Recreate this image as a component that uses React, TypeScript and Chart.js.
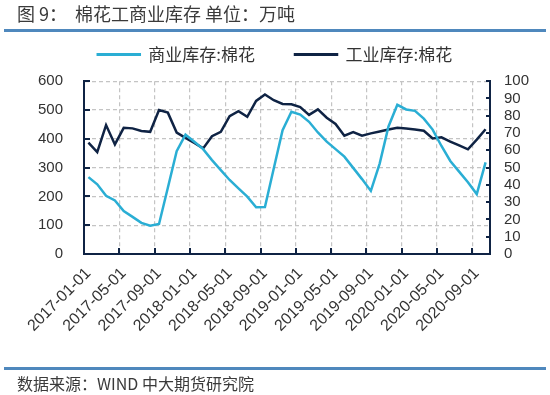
import React, { useEffect, useRef } from "react";
import { Chart, registerables } from "chart.js";

Chart.register(...registerables);

const CATEGORIES: string[] = [
  "2017-01-01", "2017-02-01", "2017-03-01", "2017-04-01", "2017-05-01", "2017-06-01",
  "2017-07-01", "2017-08-01", "2017-09-01", "2017-10-01", "2017-11-01", "2017-12-01",
  "2018-01-01", "2018-02-01", "2018-03-01", "2018-04-01", "2018-05-01", "2018-06-01",
  "2018-07-01", "2018-08-01", "2018-09-01", "2018-10-01", "2018-11-01", "2018-12-01",
  "2019-01-01", "2019-02-01", "2019-03-01", "2019-04-01", "2019-05-01", "2019-06-01",
  "2019-07-01", "2019-08-01", "2019-09-01", "2019-10-01", "2019-11-01", "2019-12-01",
  "2020-01-01", "2020-02-01", "2020-03-01", "2020-04-01", "2020-05-01", "2020-06-01",
  "2020-07-01", "2020-08-01", "2020-09-01", "2020-10-01",
];

// 商业库存:棉花 (left axis, 万吨)
const COMMERCIAL: number[] = [
  267, 242, 202, 186, 149, 129, 108, 98, 104, 230, 357, 414,
  390, 364, 326, 291, 257, 228, 199, 162, 163, 297, 430, 494,
  484, 459, 422, 390, 364, 338, 299, 260, 219, 314, 443, 518,
  502, 497, 470, 432, 375, 323, 286, 249, 208, 318,
];

// 工业库存:棉花 (right axis, 万吨)
const INDUSTRIAL: number[] = [
  64.4, 59.0, 74.6, 63.4, 73.0, 72.7, 71.2, 70.7, 83.3, 81.8, 70.3, 67.2,
  64.3, 61.1, 68.2, 70.7, 79.8, 82.7, 79.4, 88.6, 92.3, 89.0, 86.8, 86.6,
  85.0, 80.5, 83.7, 78.9, 75.3, 68.5, 70.5, 68.5, 69.8, 70.9, 72.0, 73.0,
  72.6, 72.1, 71.3, 66.9, 67.5, 65.1, 62.8, 60.6, 66.2, 72.2,
];

const SERIES_NAMES = ["商业库存:棉花", "工业库存:棉花"];
const LEFT_MAX = 600;
const LEFT_STEP = 100;
const RIGHT_MAX = 100;
const RIGHT_STEP = 10;
const LABEL_EVERY = 4;

const LIGHT = "#2aaed4";
const NAVY = "#0f2344";
const GRID = "#c4c4c4";
const TEXT = "#333333";
const CJK = "'Noto Sans CJK SC', 'Noto Sans', sans-serif";
const LATIN = "'Liberation Sans', Arial, sans-serif";

const inwardTicks = {
  id: "inwardTicks",
  afterDraw(chart: any) {
    const { ctx, chartArea } = chart;
    const x = chart.scales.x;
    const y = chart.scales.y;
    const y1 = chart.scales.y1;
    ctx.save();
    ctx.strokeStyle = NAVY;
    ctx.lineWidth = 2;
    ctx.beginPath();
    for (let i = 0; i < CATEGORIES.length; i += LABEL_EVERY) {
      const px = Math.round(x.getPixelForValue(i - 0.5));
      ctx.moveTo(px, chartArea.bottom);
      ctx.lineTo(px, chartArea.bottom - 6);
    }
    for (let v = 0; v <= LEFT_MAX; v += LEFT_STEP) {
      const py = Math.round(y.getPixelForValue(v));
      ctx.moveTo(chartArea.left, py);
      ctx.lineTo(chartArea.left + 6, py);
    }
    for (let v = 0; v <= RIGHT_MAX; v += RIGHT_STEP) {
      const py = Math.round(y1.getPixelForValue(v));
      ctx.moveTo(chartArea.right, py);
      ctx.lineTo(chartArea.right - 4, py);
    }
    ctx.stroke();
    ctx.restore();
  },
};

function ChartCanvas() {
  const ref = useRef<HTMLCanvasElement | null>(null);
  useEffect(() => {
    if (!ref.current) return;
    const chart = new Chart(ref.current, {
      type: "line",
      data: {
        labels: CATEGORIES,
        datasets: [
          {
            label: SERIES_NAMES[0],
            data: COMMERCIAL,
            yAxisID: "y",
            borderColor: LIGHT,
            backgroundColor: LIGHT,
            borderWidth: 2.5,
            pointRadius: 0,
            tension: 0,
          },
          {
            label: SERIES_NAMES[1],
            data: INDUSTRIAL,
            yAxisID: "y1",
            borderColor: NAVY,
            backgroundColor: NAVY,
            borderWidth: 2.5,
            pointRadius: 0,
            tension: 0,
          },
        ],
      },
      options: {
        responsive: false,
        animation: false,
        devicePixelRatio: 1,
        layout: { padding: { top: 6, left: 0, right: 0, bottom: 0 } },
        plugins: {
          legend: {
            display: true,
            position: "top",
            align: "center",
            labels: {
              boxWidth: 42,
              boxHeight: 0.5,
              padding: 40,
              color: TEXT,
              font: { family: CJK, size: 17 },
            },
          },
          subtitle: {
            display: true,
            text: " ",
            weight: 500,
            font: { size: 1 },
            padding: { top: 0, bottom: 7 },
          },
          tooltip: { enabled: false },
        },
        scales: {
          x: {
            type: "category",
            offset: true,
            grid: {
              offset: true,
              drawTicks: false,
              lineWidth: 1.2,
              color: (c: any) => (c.index % LABEL_EVERY === 0 ? GRID : "rgba(0,0,0,0)"),
            },
            border: { display: true, color: NAVY, width: 2, dash: [4, 3] },
            ticks: {
              autoSkip: false,
              minRotation: 45,
              maxRotation: 45,
              padding: 10,
              color: TEXT,
              font: { family: LATIN, size: 16 },
              callback: (_v: any, i: number) => (i % LABEL_EVERY === 0 ? CATEGORIES[i] : ""),
            },
            afterFit: (s: any) => {
              s.height = 141;
            },
          },
          y: {
            type: "linear",
            position: "left",
            min: 0,
            max: LEFT_MAX,
            grid: { drawTicks: false, color: GRID, lineWidth: 1.2 },
            border: { display: true, color: NAVY, width: 2, dash: [4, 3] },
            ticks: {
              stepSize: LEFT_STEP,
              autoSkip: false,
              padding: 21,
              color: TEXT,
              font: { family: LATIN, size: 15 },
            },
            afterFit: (s: any) => {
              s.width = 84;
            },
          },
          y1: {
            type: "linear",
            position: "right",
            min: 0,
            max: RIGHT_MAX,
            grid: { display: false, drawTicks: false },
            border: { display: true, color: NAVY, width: 2 },
            ticks: {
              stepSize: RIGHT_STEP,
              autoSkip: false,
              padding: 14,
              color: TEXT,
              font: { family: LATIN, size: 15 },
            },
            afterFit: (s: any) => {
              s.width = 60;
            },
          },
        },
      },
      plugins: [inwardTicks],
    } as any);
    return () => chart.destroy();
  }, []);
  return <canvas ref={ref} width={550} height={395} style={{ position: "absolute", left: 0, top: 0 }} />;
}

export default function App() {
  return (
    <div
      style={{
        position: "fixed",
        left: 0,
        top: 0,
        width: 550,
        height: 395,
        background: "#ffffff",
        overflow: "hidden",
      }}
    >
      <ChartCanvas />
      <div
        style={{
          position: "absolute",
          left: 17,
          top: 1,
          fontFamily: CJK,
          fontSize: 18,
          color: "#3a3a3a",
          whiteSpace: "pre",
          lineHeight: "24px",
        }}
      >
        {"图 9：  棉花工商业库存 单位：万吨"}
      </div>
      <div style={{ position: "absolute", left: 4, top: 29, width: 542, height: 3, background: "#4f88bd" }} />
      <div style={{ position: "absolute", left: 4, top: 367, width: 542, height: 3, background: "#4f88bd" }} />
      <div
        style={{
          position: "absolute",
          left: 17,
          top: 372,
          fontFamily: CJK,
          fontSize: 16,
          color: "#3a3a3a",
          whiteSpace: "pre",
          lineHeight: "22px",
        }}
      >
        {"数据来源：WIND 中大期货研究院"}
      </div>
    </div>
  );
}
